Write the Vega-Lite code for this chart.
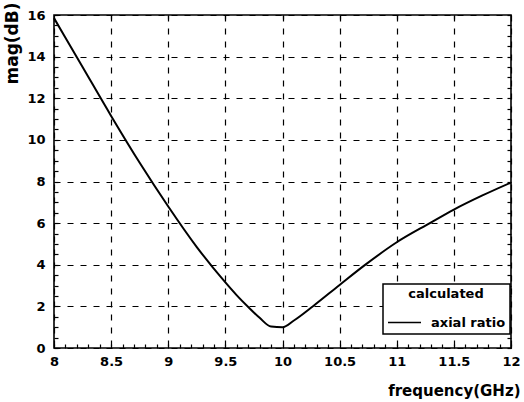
{
  "$schema": "https://vega.github.io/schema/vega-lite/v6.json",
  "width": 457,
  "height": 333,
  "autosize": {"type": "none"},
  "padding": {"left": 54, "top": 15, "right": 13, "bottom": 54},
  "background": "white",
  "config": {
    "view": {"stroke": "black", "strokeWidth": 1.6},
    "font": "DejaVu Sans",
    "axis": {
      "domain": false,
      "labelFont": "DejaVu Sans",
      "labelFontWeight": "bold",
      "labelFontSize": 13,
      "labelColor": "black",
      "titleFont": "DejaVu Sans",
      "titleFontWeight": "bold",
      "titleColor": "black",
      "tickColor": "black",
      "labelFlush": false,
      "labelOverlap": false
    },
    "legend": {
      "strokeColor": "black",
      "strokeWidth": 1.5,
      "fillColor": "white",
      "labelFontWeight": 700,
      "titleFontWeight": 700
    }
  },
  "data": {
    "values": [
      {"freq": 8.0, "mag": 15.85, "series": "axial ratio"},
      {"freq": 8.25, "mag": 13.5, "series": "axial ratio"},
      {"freq": 8.5, "mag": 11.15, "series": "axial ratio"},
      {"freq": 8.75, "mag": 8.9, "series": "axial ratio"},
      {"freq": 9.0, "mag": 6.8, "series": "axial ratio"},
      {"freq": 9.25, "mag": 4.85, "series": "axial ratio"},
      {"freq": 9.5, "mag": 3.15, "series": "axial ratio"},
      {"freq": 9.6, "mag": 2.53, "series": "axial ratio"},
      {"freq": 9.7, "mag": 1.97, "series": "axial ratio"},
      {"freq": 9.8, "mag": 1.45, "series": "axial ratio"},
      {"freq": 9.9, "mag": 1.03, "series": "axial ratio"},
      {"freq": 10.0, "mag": 1.0, "series": "axial ratio"},
      {"freq": 10.1, "mag": 1.32, "series": "axial ratio"},
      {"freq": 10.27, "mag": 2.02, "series": "axial ratio"},
      {"freq": 10.5, "mag": 3.03, "series": "axial ratio"},
      {"freq": 10.72, "mag": 3.98, "series": "axial ratio"},
      {"freq": 11.0, "mag": 5.08, "series": "axial ratio"},
      {"freq": 11.29, "mag": 6.0, "series": "axial ratio"},
      {"freq": 11.5, "mag": 6.65, "series": "axial ratio"},
      {"freq": 11.75, "mag": 7.33, "series": "axial ratio"},
      {"freq": 12.0, "mag": 7.95, "series": "axial ratio"}
    ]
  },
  "resolve": {"axis": {"x": "independent", "y": "independent"}},
  "layer": [
    {
      "mark": {"type": "line", "strokeWidth": 2, "interpolate": "monotone"},
      "encoding": {
        "x": {
          "field": "freq",
          "type": "quantitative",
          "scale": {"domain": [8, 12], "nice": false, "zero": false},
          "axis": {
            "orient": "bottom",
            "values": [8, 8.5, 9, 9.5, 10, 10.5, 11, 11.5, 12],
            "format": "~g",
            "ticks": false,
            "tickSize": 0,
            "labelPadding": 7,
            "grid": true,
            "gridColor": "black",
            "gridWidth": 1.2,
            "gridDash": [6, 7],
            "gridOpacity": 1,
            "title": "frequency(GHz)",
            "titleFontSize": 15,
            "titleAnchor": "end",
            "titleAlign": "right",
            "titleBaseline": "alphabetic",
            "titleX": 466,
            "titleY": 47
          }
        },
        "y": {
          "field": "mag",
          "type": "quantitative",
          "scale": {"domain": [0, 16], "nice": false},
          "axis": {
            "orient": "left",
            "values": [0, 2, 4, 6, 8, 10, 12, 14, 16],
            "ticks": false,
            "tickSize": 0,
            "labelPadding": 9,
            "grid": true,
            "gridColor": "black",
            "gridWidth": 1.2,
            "gridDash": [6, 7],
            "gridOpacity": 1,
            "title": "mag(dB)",
            "titleFontSize": 17,
            "titleAngle": -90,
            "titleAlign": "right",
            "titleBaseline": "middle",
            "titleX": -42,
            "titleY": -13
          }
        },
        "color": {
          "field": "series",
          "type": "nominal",
          "scale": {"domain": ["axial ratio"], "range": ["black"]},
          "legend": {
            "title": "calculated",
            "orient": "none",
            "legendX": 329,
            "legendY": 269,
            "strokeColor": "black",
            "fillColor": "white",
            "padding": 4,
            "titleFont": "DejaVu Sans",
            "titleFontWeight": 700,
            "titleFontSize": 13,
            "titleColor": "black",
            "titleAnchor": "middle",
            "titleAlign": "center",
            "titlePadding": 4,
            "labelFont": "DejaVu Sans",
            "labelFontWeight": 700,
            "labelFontSize": 13,
            "labelColor": "black",
            "labelOffset": 9,
            "symbolType": "stroke",
            "symbolSize": 1089,
            "symbolStrokeWidth": 1.5,
            "symbolStrokeColor": "black"
          }
        }
      }
    },
    {
      "mark": {"type": "line", "strokeOpacity": 0},
      "encoding": {
        "x": {
          "field": "freq",
          "type": "quantitative",
          "axis": {
            "orient": "bottom",
            "values": [8, 8.1, 8.2, 8.3, 8.4, 8.5, 8.6, 8.7, 8.8, 8.9, 9, 9.1, 9.2, 9.3, 9.4, 9.5, 9.6, 9.7, 9.8, 9.9, 10, 10.1, 10.2, 10.3, 10.4, 10.5, 10.6, 10.7, 10.8, 10.9, 11, 11.1, 11.2, 11.3, 11.4, 11.5, 11.6, 11.7, 11.8, 11.9, 12],
            "labels": false,
            "grid": false,
            "tickSize": -4,
            "tickWidth": 1.2,
            "title": null
          }
        },
        "y": {
          "field": "mag",
          "type": "quantitative",
          "axis": {
            "orient": "left",
            "values": [0, 0.5, 1, 1.5, 2, 2.5, 3, 3.5, 4, 4.5, 5, 5.5, 6, 6.5, 7, 7.5, 8, 8.5, 9, 9.5, 10, 10.5, 11, 11.5, 12, 12.5, 13, 13.5, 14, 14.5, 15, 15.5, 16],
            "labels": false,
            "grid": false,
            "tickSize": -4,
            "tickWidth": 1.2,
            "title": null
          }
        }
      }
    },
    {
      "mark": {"type": "line", "strokeOpacity": 0},
      "encoding": {
        "x": {
          "field": "freq",
          "type": "quantitative",
          "axis": {
            "orient": "top",
            "values": [8.5, 9, 9.5, 10, 10.5, 11, 11.5],
            "labels": false,
            "grid": false,
            "tickSize": -4,
            "tickWidth": 1.2,
            "title": null
          }
        },
        "y": {
          "field": "mag",
          "type": "quantitative",
          "axis": {
            "orient": "right",
            "values": [0, 0.5, 1, 1.5, 2, 2.5, 3, 3.5, 4, 4.5, 5, 5.5, 6, 6.5, 7, 7.5, 8, 8.5, 9, 9.5, 10, 10.5, 11, 11.5, 12, 12.5, 13, 13.5, 14, 14.5, 15, 15.5, 16],
            "labels": false,
            "grid": false,
            "tickSize": -4,
            "tickWidth": 1.2,
            "title": null
          }
        }
      }
    }
  ]
}
